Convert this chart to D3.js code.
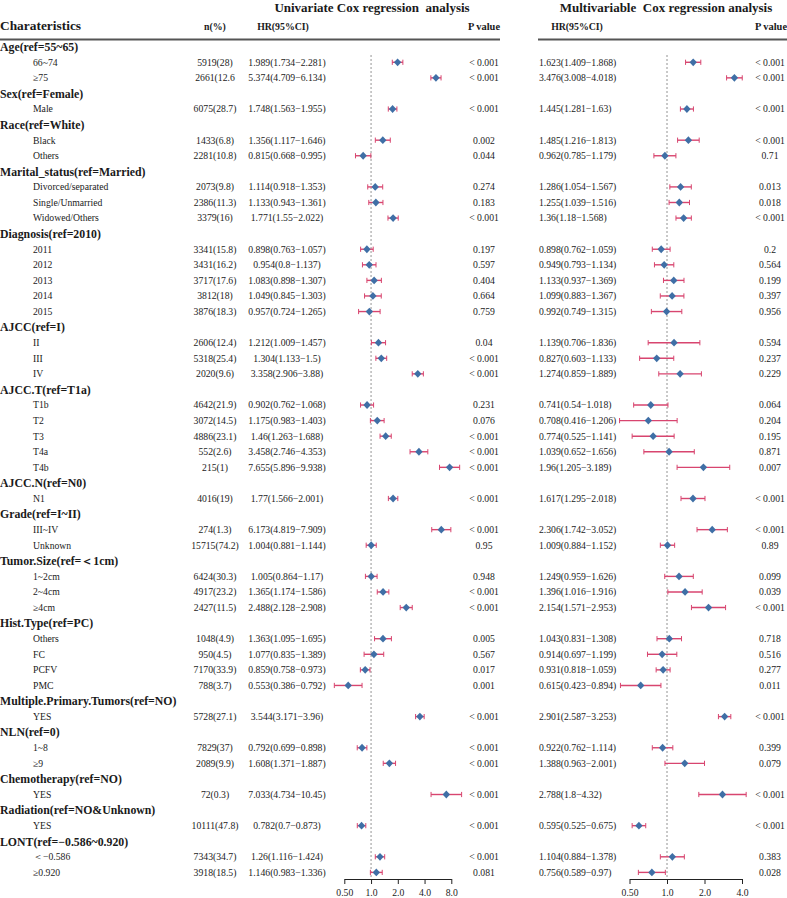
<!DOCTYPE html>
<html>
<head>
<meta charset="utf-8">
<script src="https://cdn.jsdelivr.net/npm/d3@7"></script>
<style>
  body { margin: 0; background: #fff; }
  svg text { font-family: "Liberation Serif", "Times New Roman", serif; fill: #1a1a1a; }
</style>
</head>
<body>
<div id="chart"></div>
<script>
// ---- data ----
const groupTitles = [
  "Age(ref=55~65)", "Sex(ref=Female)", "Race(ref=White)", "Marital_status(ref=Married)",
  "Diagnosis(ref=2010)", "AJCC(ref=I)", "AJCC.T(ref=T1a)", "AJCC.N(ref=N0)", "Grade(ref=I~II)",
  "Tumor.Size(ref=＜1cm)", "Hist.Type(ref=PC)", "Multiple.Primary.Tumors(ref=NO)", "NLN(ref=0)",
  "Chemotherapy(ref=NO)", "Radiation(ref=NO&Unknown)", "LONT(ref=−0.586~0.920)"
];
const groupSizes = [2, 1, 2, 3, 5, 3, 5, 1, 2, 3, 4, 1, 2, 1, 1, 2];

const levels = [
  "66~74", "≥75", "Male", "Black", "Others", "Divorced/separated", "Single/Unmarried", "Widowed/Others",
  "2011", "2012", "2013", "2014", "2015", "II", "III", "IV", "T1b", "T2", "T3", "T4a", "T4b", "N1",
  "III~IV", "Unknown", "1~2cm", "2~4cm", "≥4cm", "Others", "FC", "PCFV", "PMC", "YES", "1~8", "≥9",
  "YES", "YES", "＜−0.586", "≥0.920"
];
const nPct = [
  "5919(28)", "2661(12.6", "6075(28.7)", "1433(6.8)", "2281(10.8)", "2073(9.8)", "2386(11.3)", "3379(16)",
  "3341(15.8)", "3431(16.2)", "3717(17.6)", "3812(18)", "3876(18.3)", "2606(12.4)", "5318(25.4)", "2020(9.6)",
  "4642(21.9)", "3072(14.5)", "4886(23.1)", "552(2.6)", "215(1)", "4016(19)", "274(1.3)", "15715(74.2)",
  "6424(30.3)", "4917(23.2)", "2427(11.5)", "1048(4.9)", "950(4.5)", "7170(33.9)", "788(3.7)", "5728(27.1)",
  "7829(37)", "2089(9.9)", "72(0.3)", "10111(47.8)", "7343(34.7)", "3918(18.5)"
];

const uniHR = [1.989, 5.374, 1.748, 1.356, 0.815, 1.114, 1.133, 1.771, 0.898, 0.954, 1.083, 1.049, 0.957,
  1.212, 1.304, 3.358, 0.902, 1.175, 1.46, 3.458, 7.655, 1.77, 6.173, 1.004, 1.005, 1.365, 2.488,
  1.363, 1.077, 0.859, 0.553, 3.544, 0.792, 1.608, 7.033, 0.782, 1.26, 1.146];
const uniLo = [1.734, 4.709, 1.563, 1.117, 0.668, 0.918, 0.943, 1.55, 0.763, 0.8, 0.898, 0.845, 0.724,
  1.009, 1.133, 2.906, 0.762, 0.983, 1.263, 2.746, 5.896, 1.566, 4.819, 0.881, 0.864, 1.174, 2.128,
  1.095, 0.835, 0.758, 0.386, 3.171, 0.699, 1.371, 4.734, 0.7, 1.116, 0.983];
const uniHi = [2.281, 6.134, 1.955, 1.646, 0.995, 1.353, 1.361, 2.022, 1.057, 1.137, 1.307, 1.303, 1.265,
  1.457, 1.5, 3.88, 1.068, 1.403, 1.688, 4.353, 9.938, 2.001, 7.909, 1.144, 1.17, 1.586, 2.908,
  1.695, 1.389, 0.973, 0.792, 3.96, 0.898, 1.887, 10.45, 0.873, 1.424, 1.336];
const uniP = ["< 0.001", "< 0.001", "< 0.001", "0.002", "0.044", "0.274", "0.183", "< 0.001", "0.197", "0.597",
  "0.404", "0.664", "0.759", "0.04", "< 0.001", "< 0.001", "0.231", "0.076", "< 0.001", "< 0.001", "< 0.001",
  "< 0.001", "< 0.001", "0.95", "0.948", "< 0.001", "< 0.001", "0.005", "0.567", "0.017", "0.001", "< 0.001",
  "< 0.001", "< 0.001", "< 0.001", "< 0.001", "< 0.001", "0.081"];

const multiHR = [1.623, 3.476, 1.445, 1.485, 0.962, 1.286, 1.255, 1.36, 0.898, 0.949, 1.133, 1.099, 0.992,
  1.139, 0.827, 1.274, 0.741, 0.708, 0.774, 1.039, 1.96, 1.617, 2.306, 1.009, 1.249, 1.396, 2.154,
  1.043, 0.914, 0.931, 0.615, 2.901, 0.922, 1.388, 2.788, 0.595, 1.104, 0.756];
const multiLo = [1.409, 3.008, 1.281, 1.216, 0.785, 1.054, 1.039, 1.18, 0.762, 0.793, 0.937, 0.883, 0.749,
  0.706, 0.603, 0.859, 0.54, 0.416, 0.525, 0.652, 1.205, 1.295, 1.742, 0.884, 0.959, 1.016, 1.571,
  0.831, 0.697, 0.818, 0.423, 2.587, 0.762, 0.963, 1.8, 0.525, 0.884, 0.589];
const multiHi = [1.868, 4.018, 1.63, 1.813, 1.179, 1.567, 1.516, 1.568, 1.059, 1.134, 1.369, 1.367, 1.315,
  1.836, 1.133, 1.889, 1.018, 1.206, 1.141, 1.656, 3.189, 2.018, 3.052, 1.152, 1.626, 1.916, 2.953,
  1.308, 1.199, 1.059, 0.894, 3.253, 1.114, 2.001, 4.32, 0.675, 1.378, 0.97];
const multiP = ["< 0.001", "< 0.001", "< 0.001", "< 0.001", "0.71", "0.013", "0.018", "< 0.001", "0.2", "0.564",
  "0.199", "0.397", "0.956", "0.594", "0.237", "0.229", "0.064", "0.204", "0.195", "0.871", "0.007",
  "< 0.001", "< 0.001", "0.89", "0.099", "0.039", "< 0.001", "0.718", "0.516", "0.277", "0.011", "< 0.001",
  "0.399", "0.079", "< 0.001", "< 0.001", "0.383", "0.028"];

const uniTicks = [0.5, 1, 2, 4, 8];
const uniTickLabels = ["0.50", "1.0", "2.0", "4.0", "8.0"];
const multiTicks = [0.5, 1, 2, 4];
const multiTickLabels = ["0.50", "1.0", "2.0", "4.0"];

// ---- layout ----
const W = 787, H = 898;
const CI_COL = "#d8456f", PT_COL = "#3f6fa6";
const fmtCI = (h, l, u) => `${h}(${l}−${u})`;

// flatten groups into rows
const rows = [];
let k = 0;
groupTitles.forEach((t, g) => {
  rows.push({ head: true, text: t });
  for (let j = 0; j < groupSizes[g]; j++) rows.push({ head: false, k: k++ });
});

const y = d3.scaleLinear().domain([0, rows.length - 1]).range([46.7, 872.4]);
const xUni = d3.scaleLog().domain([0.5, 8]).range([344.3, 451.3]);
const xMulti = d3.scaleLog().domain([0.5, 4]).range([629.5, 742]);
const AXIS_Y = 879;

const svg = d3.select("#chart").append("svg")
  .attr("width", W).attr("height", H)
  .attr("viewBox", `0 0 ${W} ${H}`);

// titles
svg.append("text").attr("x", 372).attr("y", 12).attr("text-anchor", "middle")
  .style("font-weight", 700).style("font-size", "13px")
  .attr("xml:space", "preserve").text("Univariate Cox regression  analysis");
svg.append("text").attr("x", 666).attr("y", 12).attr("text-anchor", "middle")
  .style("font-weight", 700).style("font-size", "13px")
  .attr("xml:space", "preserve").text("Multivariable  Cox regression analysis");

// column headers
const hdr = [
  { t: "Charateristics", x: 0, a: "start", fs: 13.4 },
  { t: "n(%)", x: 215, a: "middle", fs: 9.8 },
  { t: "HR(95%CI)", x: 283, a: "middle", fs: 9.8 },
  { t: "P value", x: 484, a: "middle", fs: 10.4 },
  { t: "HR(95%CI)", x: 577, a: "middle", fs: 9.8 },
  { t: "P value", x: 771, a: "middle", fs: 10.4 }
];
svg.selectAll("text.hdr").data(hdr).join("text")
  .attr("class", "hdr")
  .attr("x", d => d.x).attr("y", 30)
  .attr("text-anchor", d => d.a)
  .style("font-weight", 700).style("font-size", d => d.fs + "px")
  .text(d => d.t);

svg.append("line").attr("x1", 0).attr("x2", 500).attr("y1", 39.5).attr("y2", 39.5)
  .attr("stroke", "#555").attr("stroke-width", 1.8);
svg.append("line").attr("x1", 538).attr("x2", W).attr("y1", 39.5).attr("y2", 39.5)
  .attr("stroke", "#555").attr("stroke-width", 1.8);

// reference lines at HR = 1
[xUni, xMulti].forEach(sc => {
  svg.append("line")
    .attr("x1", sc(1)).attr("x2", sc(1)).attr("y1", 55).attr("y2", AXIS_Y)
    .attr("stroke", "#777").attr("stroke-width", 0.8).attr("stroke-dasharray", "2,2");
});

// group headers
svg.selectAll("text.grp").data(rows.map((r, i) => ({ ...r, i })).filter(r => r.head)).join("text")
  .attr("class", "grp")
  .attr("x", 0).attr("y", d => y(d.i) + 4.3)
  .style("font-weight", 700).style("font-size", "11.8px")
  .text(d => d.text);

// item rows
const items = rows.map((r, i) => ({ ...r, i })).filter(r => !r.head);
const cell = (cls, x, anchor, fn) => {
  svg.selectAll("text." + cls).data(items).join("text")
    .attr("class", cls)
    .attr("x", x).attr("y", d => y(d.i) + 3.4)
    .attr("text-anchor", anchor)
    .style("font-size", "9.7px")
    .text(fn);
};
cell("lvl", 33, "start", d => levels[d.k]);
cell("npct", 215, "middle", d => nPct[d.k]);
cell("uhr", 287, "middle", d => fmtCI(uniHR[d.k], uniLo[d.k], uniHi[d.k]));
cell("up", 484, "middle", d => uniP[d.k]);
cell("mhr", 539, "start", d => fmtCI(multiHR[d.k], multiLo[d.k], multiHi[d.k]));
cell("mp", 770, "middle", d => multiP[d.k]);

// forest marks
function forest(sc, hr, lo, hi, cls) {
  const g = svg.append("g").attr("class", cls);
  const row = g.selectAll("g").data(items).join("g");
  row.append("line")
    .attr("x1", d => sc(lo[d.k])).attr("x2", d => sc(hi[d.k]))
    .attr("y1", d => y(d.i)).attr("y2", d => y(d.i))
    .attr("stroke", CI_COL).attr("stroke-width", 1.4);
  [lo, hi].forEach(arr => {
    row.append("line")
      .attr("x1", d => sc(arr[d.k])).attr("x2", d => sc(arr[d.k]))
      .attr("y1", d => y(d.i) - 2.6).attr("y2", d => y(d.i) + 2.6)
      .attr("stroke", CI_COL).attr("stroke-width", 1);
  });
  row.append("path")
    .attr("d", d => {
      const cx = sc(hr[d.k]), cy = y(d.i), a = 3.7, b = 3.9;
      return `M${cx - a},${cy}L${cx},${cy - b}L${cx + a},${cy}L${cx},${cy + b}Z`;
    })
    .attr("fill", PT_COL);
}
forest(xUni, uniHR, uniLo, uniHi, "uni");
forest(xMulti, multiHR, multiLo, multiHi, "multi");

// axes
function drawAxis(sc, ticks, labels) {
  const ax = d3.axisBottom(sc)
    .tickValues(ticks)
    .tickFormat((d, i) => labels[i])
    .tickSize(5).tickSizeOuter(0).tickPadding(5.5);
  const g = svg.append("g").attr("transform", `translate(0,${AXIS_Y})`).call(ax);
  g.select(".domain").attr("stroke", "#222").attr("stroke-width", 1);
  g.selectAll(".tick line").attr("stroke", "#222");
  g.selectAll(".tick text")
    .style("font-family", "\"Liberation Serif\", serif").style("font-size", "9.7px").attr("fill", "#1a1a1a");
}
drawAxis(xUni, uniTicks, uniTickLabels);
drawAxis(xMulti, multiTicks, multiTickLabels);
</script>
</body>
</html>
